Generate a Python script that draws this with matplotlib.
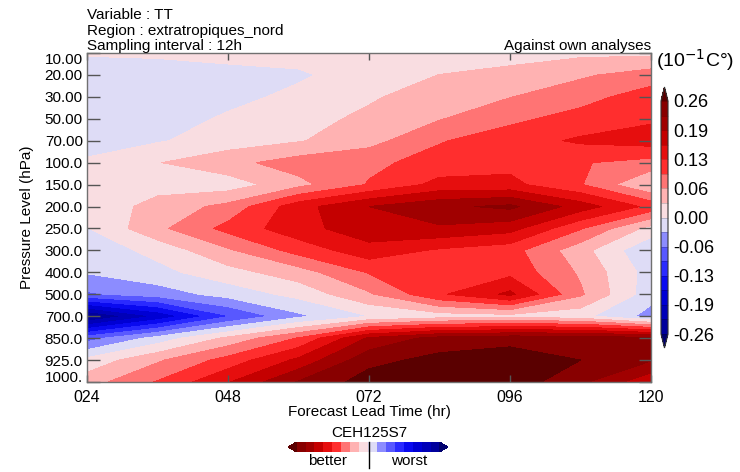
import numpy as np
import matplotlib
matplotlib.use("Agg")
import matplotlib.pyplot as plt
from matplotlib.colors import ListedColormap, BoundaryNorm
from matplotlib.cm import ScalarMappable

plt.rcParams["font.family"] = ["Liberation Sans", "DejaVu Sans"]

# Forecast lead times (hr) and pressure levels (hPa)
lead_times = [24, 36, 48, 60, 72, 84, 96, 108, 120]
levels_hpa = ["10.00", "20.00", "30.00", "50.00", "70.00", "100.0", "150.0", "200.0",
              "250.0", "300.0", "400.0", "500.0", "700.0", "850.0", "925.0", "1000."]
xtick_vals = [24, 48, 72, 96, 120]
xtick_labels = ["024", "048", "072", "096", "120"]

# TT score difference for each lead time, top (10 hPa) to bottom (1000 hPa)
t024 = [0.003, -0.017, -0.02, -0.02, -0.012, 0.004, 0.015, 0.01, -0.002, -0.02, -0.03, -0.07, -0.27, -0.08, 0.01, 0.05]
t036 = [0.005, -0.015, -0.018, -0.01, -0.003, 0.031, 0.02, 0.044, 0.057, 0.01, -0.01, -0.05, -0.19, -0.02, 0.06, 0.10]
t048 = [0.01, -0.01, -0.006, 0.003, 0.015, 0.055, 0.015, 0.075, 0.108, 0.06, 0.02, -0.02, -0.10, 0.04, 0.11, 0.16]
t060 = [0.008, -0.003, 0.005, 0.02, 0.03, 0.08, 0.055, 0.15, 0.15, 0.11, 0.05, 0.01, -0.04, 0.10, 0.17, 0.23]
t072 = [0.001, 0.01, 0.028, 0.04, 0.053, 0.09, 0.10, 0.195, 0.183, 0.15, 0.10, 0.06, 0.0, 0.20, 0.25, 0.275]
t084 = [0.01, 0.033, 0.05, 0.063, 0.095, 0.11, 0.14, 0.22, 0.19, 0.125, 0.12, 0.125, 0.015, 0.24, 0.27, 0.285]
t096 = [0.015, 0.045, 0.064, 0.09, 0.115, 0.12, 0.139, 0.235, 0.175, 0.11, 0.12, 0.17, 0.02, 0.25, 0.275, 0.28]
t108 = [0.025, 0.06, 0.085, 0.11, 0.135, 0.10, 0.10, 0.18, 0.10, 0.045, 0.06, 0.07, 0.01, 0.25, 0.26, 0.235]
t120 = [0.025, 0.08, 0.114, 0.125, 0.145, 0.085, 0.03, 0.12, 0.02, -0.03, -0.015, -0.02, -0.045, 0.235, 0.23, 0.17]

cbar_ticks = [-0.26, -0.195, -0.13, -0.065, 0.0, 0.065, 0.13, 0.195, 0.26]
cbar_labels = ["-0.26", "-0.19", "-0.13", "-0.06", "0.00", "0.06", "0.13", "0.19", "0.26"]

# contour levels and colour table (blue = negative, red = positive)
clevs = np.linspace(-0.26, 0.26, 17)
colors = ["#00009c", "#0000b8", "#0000d4", "#0a0af0", "#2a2aff", "#5858ff", "#8c8cff", "#dedcf6",
          "#f9dde1", "#ffb2b2", "#ff7474", "#ff2e2e", "#e60e0e", "#c40000", "#a00000", "#880000"]
cmap = ListedColormap(colors)
cmap.set_under("#00006e")
cmap.set_over("#5a0000")
norm = BoundaryNorm(clevs, cmap.N)

Z = np.array([t024, t036, t048, t060, t072, t084, t096, t108, t120]).T
yidx = np.arange(len(levels_hpa))

fig = plt.figure(figsize=(7.4, 4.72), dpi=100)
ax = fig.add_axes([87 / 740, 1 - 382 / 472, 564 / 740, 329 / 472])
ax.contourf(lead_times, yidx, Z, levels=clevs, cmap=cmap, norm=norm, extend="both")

ax.set_xlim(24, 120)
ax.set_ylim(len(levels_hpa) - 1, 0)
ax.set_yticks(yidx)
ax.set_yticklabels(levels_hpa, fontsize=11)
# keep the first and last level labels inside the frame
ylabs = ax.get_yticklabels()
ylabs[0].set_va("top")
ylabs[-1].set_va("baseline")
ax.set_xticks(xtick_vals)
ax.set_xticklabels(xtick_labels, fontsize=11.5)
ax.tick_params(axis="y", direction="in", length=9, width=1, color="#555555",
               left=True, right=True, pad=3)
ax.tick_params(axis="x", direction="in", length=5, width=1, color="#555555",
               top=True, bottom=True, pad=6)
for s in ax.spines.values():
    s.set_color("#707070")
    s.set_linewidth(1)

ax.set_xlabel("Forecast Lead Time (hr)", fontsize=11)
ax.xaxis.set_label_coords(0.5, -(405 - 382) / 329)
ax.set_ylabel("Pressure Level (hPa)", fontsize=11, va="center")
ax.yaxis.set_label_coords((27 - 87) / 564, 0.5)

fig.text(87 / 740, 1 - 15 / 472, "Variable : TT", fontsize=11, va="center")
fig.text(87 / 740, 1 - 31 / 472, "Region : extratropiques_nord", fontsize=11, va="center")
fig.text(87 / 740, 1 - 46 / 472, "Sampling interval : 12h", fontsize=11, va="center")
fig.text(651 / 740, 1 - 46 / 472, "Against own analyses", fontsize=11, va="center", ha="right")
fig.text(656 / 740, 1 - 60 / 472, "(10$^{-1}$C°)", fontsize=14, va="center", ha="left")

# vertical colour bar
cax = fig.add_axes([661 / 740, 1 - 348 / 472, 7 / 740, 261 / 472])
cb = fig.colorbar(ScalarMappable(norm=norm, cmap=cmap), cax=cax, extend="both",
                  extendfrac=0.06, ticks=cbar_ticks, drawedges=True)
cb.ax.set_yticklabels(cbar_labels, fontsize=13)
cb.ax.tick_params(length=0, pad=4)
cb.ax.minorticks_off()
cb.outline.set_linewidth(0.8)
cb.outline.set_edgecolor("#333333")
cb.dividers.set_color("#00000040")
cb.dividers.set_linewidth(0.5)

# better / worst legend bar
lax = fig.add_axes([288 / 740, 1 - 452 / 472, 160 / 740, 10 / 472])
lb = fig.colorbar(ScalarMappable(norm=norm, cmap=cmap.reversed()), cax=lax,
                  orientation="horizontal", extend="both", extendfrac=0.06)
lb.set_ticks([])
lax.minorticks_off()
lax.tick_params(which="both", length=0, labelbottom=False)
lb.outline.set_visible(False)
fig.text(369 / 740, 1 - 433 / 472, "CEH125S7", fontsize=11, ha="center", va="center")
fig.text(328 / 740, 1 - 461 / 472, "better", fontsize=11, ha="center", va="center")
fig.text(409 / 740, 1 - 461 / 472, "worst", fontsize=11, ha="center", va="center")
fig.add_artist(plt.Line2D([368.5 / 740, 368.5 / 740], [1 - 442 / 472, 1 - 468 / 472],
                          color="black", linewidth=1))

fig.savefig("out.png", dpi=100)
